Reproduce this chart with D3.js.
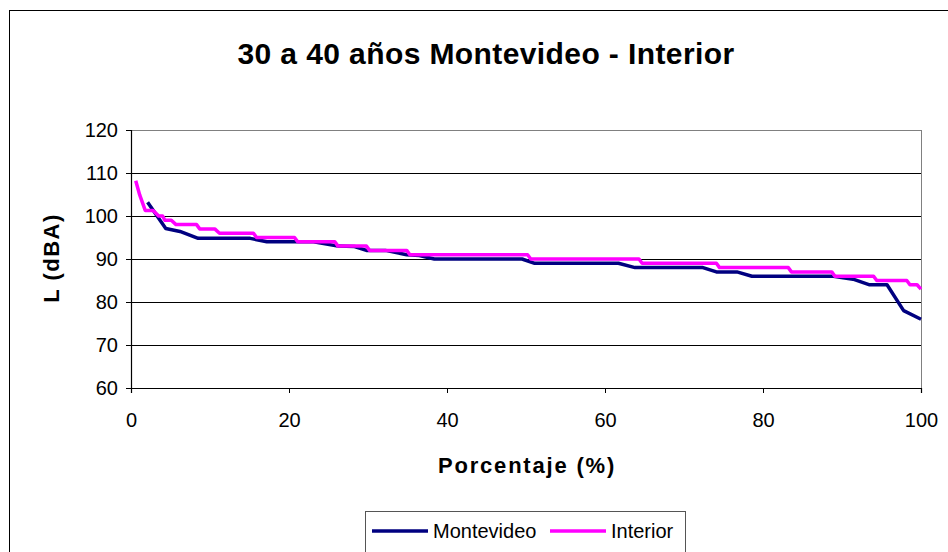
<!DOCTYPE html>
<html>
<head>
<meta charset="utf-8">
<script src="https://cdnjs.cloudflare.com/ajax/libs/d3/7.8.5/d3.min.js"></script>
<style>
  body { margin: 0; background: #fff; }
  text { font-family: Arial, "Liberation Sans", sans-serif; }
</style>
</head>
<body>
<div id="chart"></div>
<script>
// data (percent of time vs level)
var montevideoX = [2.1, 4.4, 6.2, 8.5, 15.1, 17.2, 23.1, 26.2, 28.3, 29.8, 32.2, 34.9, 36.5, 38.4, 49.5, 51.1, 61.7, 63.8, 72.4, 74.1, 76.7, 78.6, 88.9, 91.4, 93.5, 95.7, 97.8, 100];
var montevideoY = [103.2, 97.1, 96.4, 94.8, 94.8, 94, 94, 93, 92.9, 92, 92, 91, 90.8, 90, 90, 89, 89, 88, 88, 87, 87, 86, 86, 85.3, 84, 84, 78, 76];

var interiorX = [0.6, 1.1, 1.8, 2.8, 3.5, 4.0, 4.3, 5.1, 5.7, 8.3, 8.7, 10.6, 11.2, 15.5, 15.9, 20.7, 21.1, 25.8, 26.2, 29.8, 30.2, 34.9, 35.3, 50.2, 50.6, 64.3, 64.7, 74.1, 74.5, 83.2, 83.6, 88.7, 89.1, 94.0, 94.4, 98.2, 98.6, 99.5, 100];
var interiorY = [108.2, 104.9, 101.3, 101.3, 100, 100, 99, 99, 98, 98, 97, 97, 96, 96, 95, 95, 94, 94, 93, 93, 92, 92, 91, 91, 90, 90, 89, 89, 88, 88, 87, 87, 86, 86, 85, 85, 84, 84, 83];

var xTicks = [0, 20, 40, 60, 80, 100];
var yTicks = [60, 70, 80, 90, 100, 110, 120];

var seriesNames = ["Montevideo", "Interior"];
var seriesColors = ["#000080", "#ff00ff"];

// set the dimensions and margins of the graph
var W = 948, H = 552;
var margin = {top: 130, right: 27, bottom: 164, left: 131},
width = W - margin.left - margin.right,
height = H - margin.top - margin.bottom;

// set the ranges
var x = d3.scaleLinear().domain([0, 100]).range([0, width]);
var y = d3.scaleLinear().domain([60, 120]).range([height, 0]);

var svg = d3.select("#chart").append("svg")
    .attr("width", W)
    .attr("height", H);

// outer chart frame
svg.append("rect")
    .attr("x", 9.5).attr("y", 10.5)
    .attr("width", 960).attr("height", 560)
    .attr("fill", "#fff")
    .attr("stroke", "#000")
    .attr("stroke-width", 1);

// title
svg.append("text")
    .attr("x", 486).attr("y", 64)
    .attr("text-anchor", "middle")
    .style("font-size", "30px")
    .style("font-weight", "bold")
    .style("letter-spacing", "0.4px")
    .text("30 a 40 años Montevideo - Interior");

var g = svg.append("g")
    .attr("transform", "translate(" + margin.left + "," + margin.top + ")");

// gridlines
g.selectAll(".grid")
    .data(yTicks.filter(function(d) { return d > 60 && d < 120; }))
    .enter().append("line")
    .attr("class", "grid")
    .attr("x1", 0).attr("x2", width)
    .attr("y1", function(d) { return Math.round(y(d)) + 0.5; })
    .attr("y2", function(d) { return Math.round(y(d)) + 0.5; })
    .attr("stroke", "#000")
    .attr("stroke-width", 1);

// plot area border
g.append("rect")
    .attr("x", 0.5).attr("y", 0.5)
    .attr("width", width).attr("height", height)
    .attr("fill", "none")
    .attr("stroke", "#808080")
    .attr("stroke-width", 1);

// add the x axis
var xAxis = g.append("g")
    .attr("transform", "translate(0," + height + ")")
    .call(d3.axisBottom(x).tickValues(xTicks).tickSize(5).tickPadding(20));

// add the y axis
var yAxis = g.append("g")
    .call(d3.axisLeft(y).tickValues(yTicks).tickSize(5).tickPadding(8));

[xAxis, yAxis].forEach(function(a) {
    a.select(".domain").attr("stroke", "#000").attr("stroke-width", 1.2);
    a.selectAll(".tick line").attr("stroke", "#000");
    a.selectAll(".tick text")
        .style("font-size", "20px")
        .style("font-family", "Arial, 'Liberation Sans', sans-serif")
        .attr("fill", "#000");
});

// axis titles
svg.append("text")
    .attr("x", 527).attr("y", 473)
    .attr("text-anchor", "middle")
    .style("font-size", "22px")
    .style("font-weight", "bold")
    .style("letter-spacing", "1.8px")
    .text("Porcentaje (%)");

svg.append("text")
    .attr("transform", "translate(59,258) rotate(-90)")
    .attr("text-anchor", "middle")
    .style("font-size", "22px")
    .style("font-weight", "bold")
    .style("letter-spacing", "1.5px")
    .text("L (dBA)");

// lines
var line = d3.line()
    .x(function(d) { return x(d[0]); })
    .y(function(d) { return y(d[1]); });

var series = [
    d3.zip(montevideoX, montevideoY),
    d3.zip(interiorX, interiorY)
];

g.selectAll(".series")
    .data(series)
    .enter().append("path")
    .attr("class", "series")
    .attr("d", line)
    .attr("fill", "none")
    .attr("stroke", function(d, i) { return seriesColors[i]; })
    .attr("stroke-width", 3.5)
    .attr("stroke-linejoin", "round");

// legend
var legend = svg.append("g");
legend.append("rect")
    .attr("x", 365.5).attr("y", 511.5)
    .attr("width", 320).attr("height", 60)
    .attr("fill", "#fff")
    .attr("stroke", "#555")
    .attr("stroke-width", 1);

var legendX = [372, 550];
seriesNames.forEach(function(name, i) {
    legend.append("line")
        .attr("x1", legendX[i]).attr("x2", legendX[i] + 56)
        .attr("y1", 531).attr("y2", 531)
        .attr("stroke", seriesColors[i])
        .attr("stroke-width", 3.5);
    legend.append("text")
        .attr("x", legendX[i] + 61).attr("y", 538)
        .style("font-size", "20px")
        .text(name);
});
</script>
</body>
</html>
